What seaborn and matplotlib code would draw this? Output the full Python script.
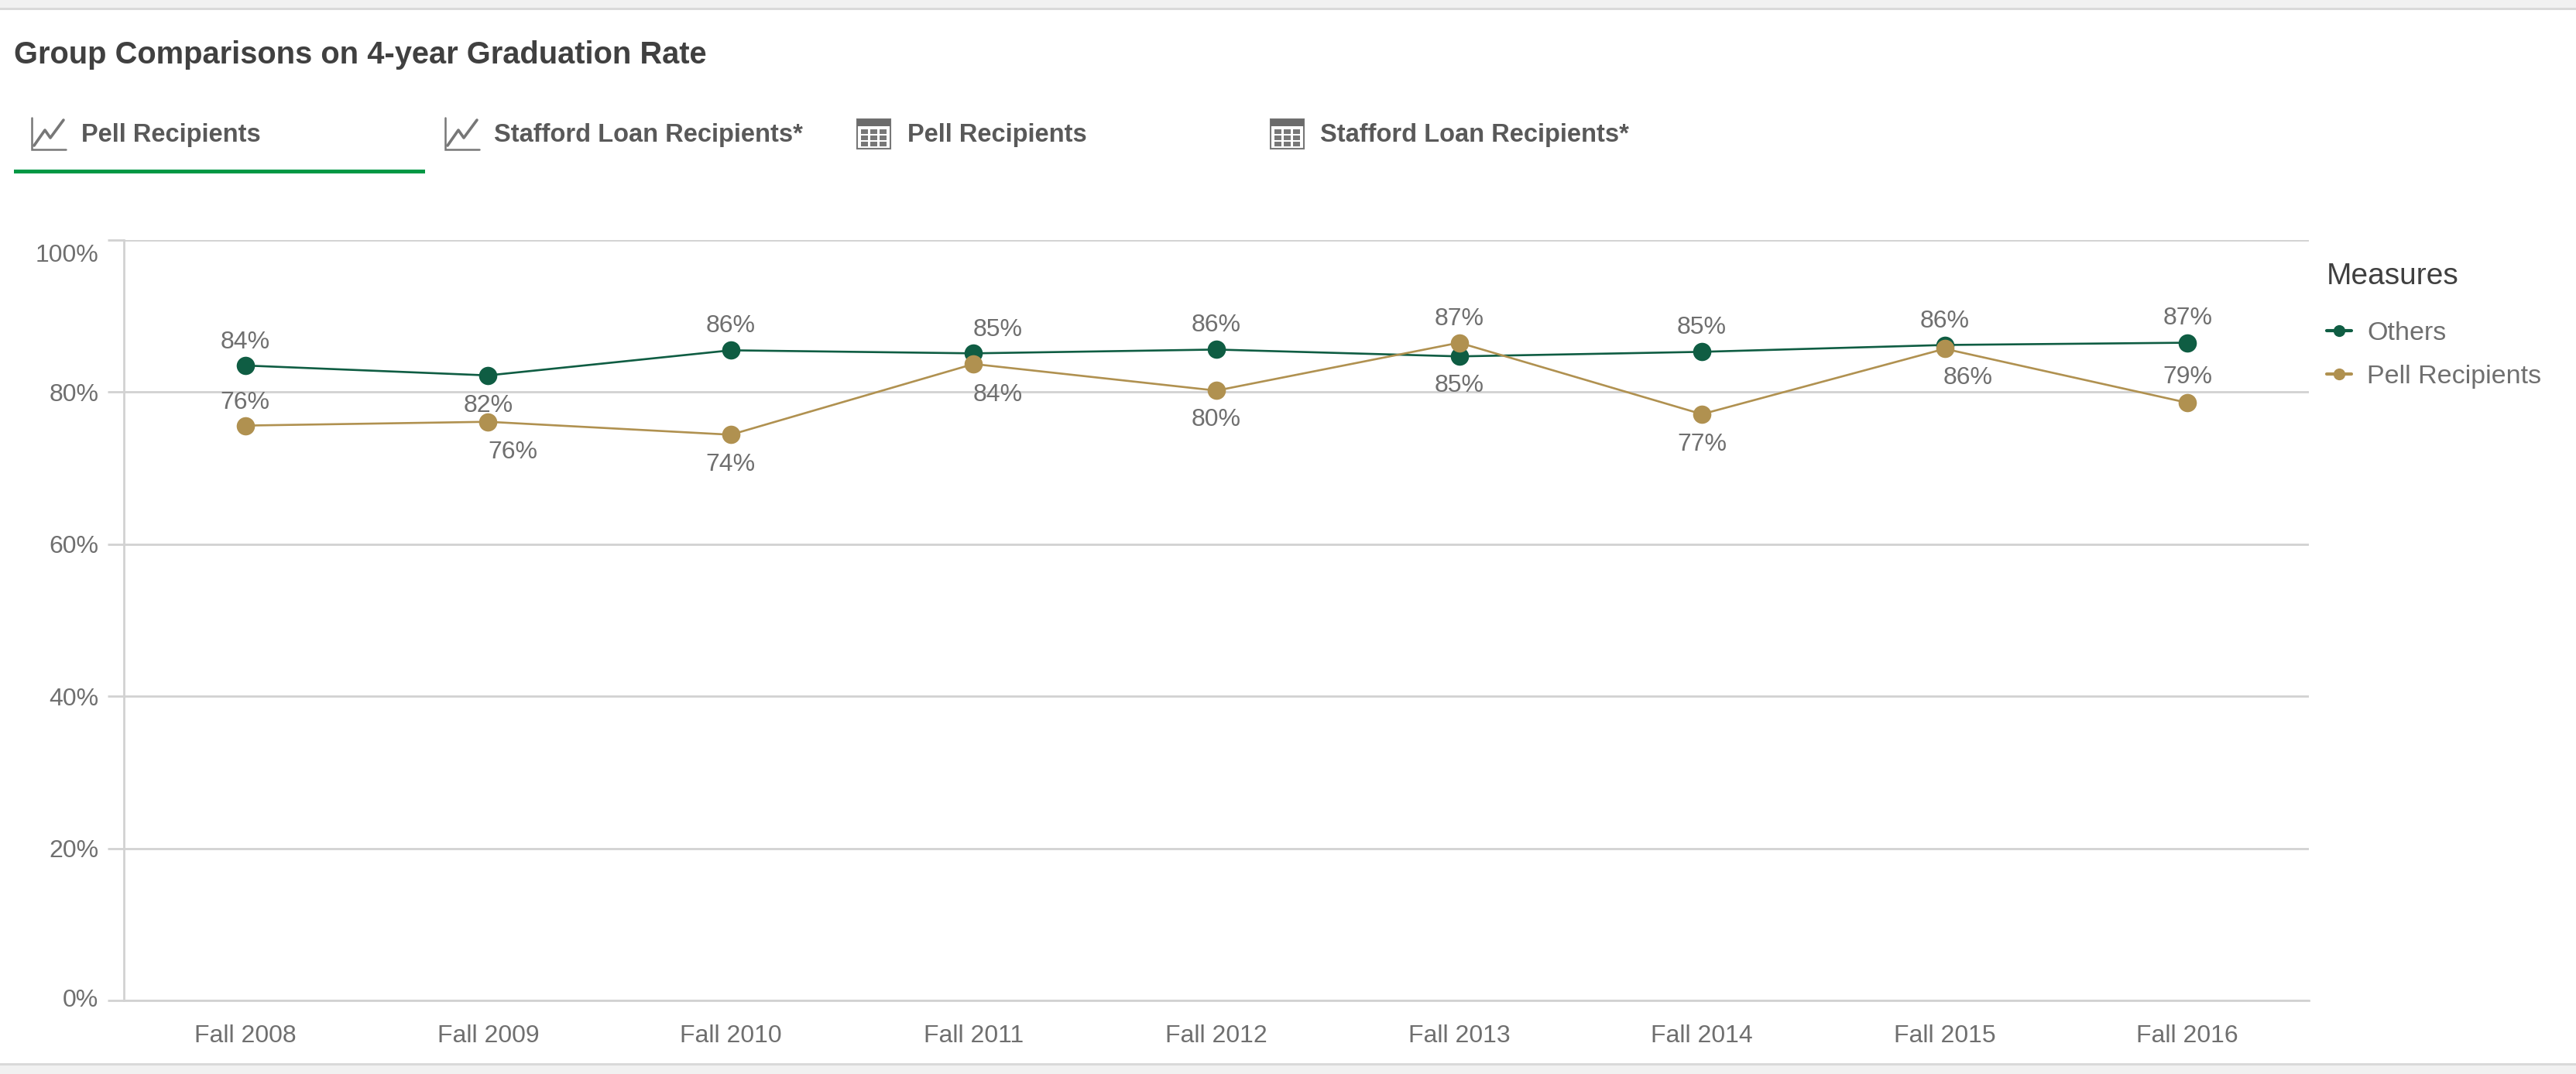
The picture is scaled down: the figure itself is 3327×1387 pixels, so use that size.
import matplotlib
matplotlib.use("Agg")
import matplotlib.pyplot as plt
from matplotlib.patches import Rectangle
from matplotlib.transforms import ScaledTranslation
import pandas as pd
import seaborn as sns

terms = ["Fall 2008", "Fall 2009", "Fall 2010", "Fall 2011", "Fall 2012",
         "Fall 2013", "Fall 2014", "Fall 2015", "Fall 2016"]
others = [83.5, 82.2, 85.5, 85.1, 85.6, 84.7, 85.3, 86.2, 86.5]
pell = [75.6, 76.1, 74.4, 83.7, 80.2, 86.5, 77.1, 85.7, 78.6]
others_labels = ["84%", "82%", "86%", "85%", "86%", "85%", "85%", "86%", "87%"]
pell_labels = ["76%", "76%", "74%", "84%", "80%", "87%", "77%", "86%", "79%"]
y_ticks = [0, 20, 40, 60, 80, 100]
series_names = ["Others", "Pell Recipients"]
tab_labels = ["Pell Recipients", "Stafford Loan Recipients*", "Pell Recipients", "Stafford Loan Recipients*"]
title = "Group Comparisons on 4-year Graduation Rate"

# label placement (pixels from the point)
others_off = [(0, -34), (0, 35), (0, -35), (31, -34), (0, -35), (0, 34), (0, -35), (0, -35), (0, -36)]
pell_off = [(0, -34), (32, 35), (0, 35), (31, 36), (0, 34), (0, -35), (0, 35), (30, 34), (0, -37)]

W, H, DPI = 3327, 1387, 100
GREEN, TAN = "#0f5d43", "#b09150"
GRID = "#d2d2d2"
TICK = "#6f6f6f"

sns.set_theme(style="white")
plt.rcParams["font.family"] = ["Liberation Sans", "DejaVu Sans"]

fig = plt.figure(figsize=(W / DPI, H / DPI), dpi=DPI, facecolor="white")

# page furniture, in pixel coordinates
ui = fig.add_axes([0, 0, 1, 1], zorder=0)
ui.set_xlim(0, W)
ui.set_ylim(H, 0)
ui.axis("off")
ui.add_patch(Rectangle((0, 0), W, 10, color="#f1f1f1", lw=0))
ui.add_patch(Rectangle((0, 10), W, 3, color="#d9d9d9", lw=0))
ui.add_patch(Rectangle((0, 1374), W, 13, color="#f1f1f1", lw=0))
ui.add_patch(Rectangle((0, 1373), W, 3, color="#d9d9d9", lw=0))

ui.text(18, 82, title, fontsize=28.7, fontweight="bold", color="#404040", va="baseline", ha="left")
for x, lab in zip([105, 638, 1172, 1705], tab_labels):
    ui.text(x, 183, lab, fontsize=23.5, fontweight="bold", color="#595959", va="baseline", ha="left")
ui.add_patch(Rectangle((18, 219), 531, 5, color="#009845", lw=0))


def line_icon(x0):
    ui.plot([x0, x0, x0 + 44], [152, 193, 193], color="#777777", lw=1.8, solid_joinstyle="miter")
    ui.plot([x0 + 3, x0 + 17, x0 + 24, x0 + 41], [188, 168, 178, 155], color="#777777", lw=2.6)


def table_icon(x0):
    ui.add_patch(Rectangle((x0, 154), 43, 38, fc="white", ec="#777777", lw=1.5))
    ui.add_patch(Rectangle((x0, 154), 43, 9, color="#6b6b6b", lw=0))
    for i in range(3):
        for j in range(3):
            ui.add_patch(Rectangle((x0 + 5 + i * 12, 167 + j * 8), 9, 5.5, color="#777777", lw=0))


line_icon(41)
line_icon(575)
table_icon(1107)
table_icon(1641)

# chart
ax = fig.add_axes([160 / W, 1 - 1292 / H, (2982 - 160) / W, (1292 - 310) / H], zorder=1)
ax.patch.set_alpha(0)
df = pd.DataFrame({
    "term": terms * 2,
    "value": others + pell,
    "series": [series_names[0]] * len(terms) + [series_names[1]] * len(terms),
})
sns.lineplot(data=df, x="term", y="value", hue="series", palette=[GREEN, TAN], marker="o",
             markersize=17, markeredgewidth=0, linewidth=1.9, sort=False, ax=ax, zorder=3)
ax.set_xlim(-0.5, 8.5)
ax.set_ylim(0, 100)
ax.set_xlabel("")
ax.set_ylabel("")
ax.set_yticks(y_ticks)
ax.set_yticklabels([f"{v}%" for v in y_ticks])
ax.grid(axis="y", color=GRID, lw=2)
ax.grid(axis="x", visible=False)
ax.set_axisbelow(True)
for s in ["top", "right"]:
    ax.spines[s].set_visible(False)
for s in ["left", "bottom"]:
    ax.spines[s].set_color(GRID)
    ax.spines[s].set_linewidth(2)
ax.tick_params(axis="y", left=True, length=15, width=2, color=GRID, pad=8.5, labelsize=23, labelcolor=TICK)
ax.tick_params(axis="x", bottom=False, pad=16, labelsize=23, labelcolor=TICK)
top_lab = ax.get_yticklabels()[-1]
top_lab.set_transform(top_lab.get_transform() + ScaledTranslation(0, -17 / DPI, fig.dpi_scale_trans))
bottom_lab = ax.get_yticklabels()[0]
bottom_lab.set_transform(bottom_lab.get_transform() + ScaledTranslation(0, 3 / DPI, fig.dpi_scale_trans))

for vals, labs, offs in zip([others, pell], [others_labels, pell_labels], [others_off, pell_off]):
    for i, (v, lab, (dx, dy)) in enumerate(zip(vals, labs, offs)):
        ax.annotate(lab, (i, v), xytext=(dx * 72 / DPI, -(dy + 4) * 72 / DPI), textcoords="offset points",
                    ha="center", va="center", fontsize=23, color=TICK, zorder=4)

handles, labels = ax.get_legend_handles_labels()
leg = ax.legend(handles, labels, title="Measures", loc="upper left", bbox_to_anchor=(2974 / W, 1 - 308 / H),
                bbox_transform=fig.transFigure, frameon=False, fontsize=24.5, title_fontsize=28,
                handlelength=0.95, handletextpad=0.6, labelspacing=0.74, alignment="left", borderpad=0.4)
leg._legend_box.sep = 29
leg.get_title().set_color("#404040")
for t in leg.get_texts():
    t.set_color(TICK)
for h in leg.get_lines():
    h.set_markersize(11)
    h.set_linewidth(3)

fig.savefig("out.png", dpi=DPI)
